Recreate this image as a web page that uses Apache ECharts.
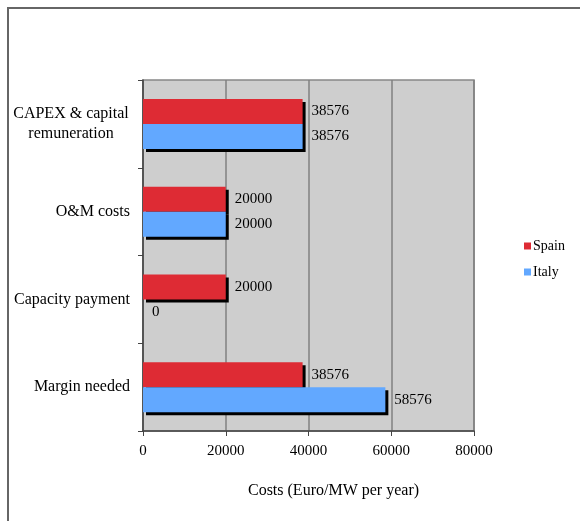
<!DOCTYPE html>
<html>
<head>
<meta charset="utf-8">
<script src="https://cdn.jsdelivr.net/npm/echarts@6/dist/echarts.min.js"></script>
<style>
  html, body { margin: 0; padding: 0; background: #fff; }
  #frame { position: absolute; left: 7px; top: 7px; width: 600px; height: 540px; border: 2px solid #666; box-sizing: border-box; }
  #main { position: absolute; left: 0; top: 0; width: 580px; height: 521px; }
</style>
</head>
<body>
<div id="frame"></div>
<div id="main"></div>
<script>
var categories = ['Margin needed', 'Capacity payment', 'O&M costs', 'CAPEX & capital remuneration'];
var spain = [38576, 20000, 20000, 38576];
var italy = [58576, 0, 20000, 38576];
var xTicks = [0, 20000, 40000, 60000, 80000];

var serif = '"Liberation Serif", "DejaVu Serif", serif';

var chart = echarts.init(document.getElementById('main'));
var barShadow = {
    shadowColor: '#000',
    shadowBlur: 0,
    shadowOffsetX: 3,
    shadowOffsetY: 3
};
var option = {
    animation: false,
    textStyle: {fontFamily: serif},
    legend: {
        orient: 'vertical',
        left: 519,
        top: 234,
        itemWidth: 7,
        itemHeight: 7,
        itemGap: 12,
        icon: 'rect',
        textStyle: {fontFamily: serif, fontSize: 14, color: '#000', padding: [0, 0, 0, -3]},
        data: ['Spain', 'Italy']
    },
    grid: {
        left: 143,
        right: 106,
        top: 80,
        bottom: 90,
        show: true,
        backgroundColor: '#cecece',
        borderColor: '#888',
        borderWidth: 1.5
    },
    xAxis: {
        type: 'value',
        min: xTicks[0],
        max: xTicks[xTicks.length - 1],
        interval: 20000,
        name: 'Costs (Euro/MW per year)',
        nameLocation: 'middle',
        nameGap: 52,
        nameTextStyle: {fontFamily: serif, fontSize: 16, color: '#000', padding: [0, 0, 0, 50]},
        axisLine: {show: true, lineStyle: {color: '#444', width: 1.5}},
        axisTick: {show: true, length: 5, lineStyle: {color: '#444'}},
        axisLabel: {
            fontFamily: serif, fontSize: 15, color: '#000', margin: 13,
            formatter: function (v) { return String(v); }
        },
        splitLine: {show: true, lineStyle: {color: '#808080', width: 1.5}}
    },
    yAxis: {
        type: 'category',
        data: categories,
        axisLine: {show: true, lineStyle: {color: '#444', width: 1.5}},
        axisTick: {show: true, length: 5, lineStyle: {color: '#444'}},
        axisLabel: {
            fontFamily: serif,
            fontSize: 16,
            color: '#000',
            margin: 13,
            formatter: function (v) {
                if (v === 'CAPEX & capital remuneration') {
                    return '{c|CAPEX & capital}\n{c|remuneration}';
                }
                return v;
            },
            rich: {
                c: {width: 118, align: 'center', fontFamily: serif, fontSize: 16, color: '#000', lineHeight: 20}
            }
        }
    },
    series: [
        {
            name: 'Spain',
            type: 'bar',
            barWidth: 25,
            barGap: '0%',
            data: spain,
            itemStyle: Object.assign({color: '#de2b34'}, barShadow),
            label: {show: true, position: 'right', distance: 9, fontFamily: serif, fontSize: 15, color: '#000'}
        },
        {
            name: 'Italy',
            type: 'bar',
            barWidth: 25,
            barGap: '0%',
            data: italy,
            itemStyle: Object.assign({color: '#62a8ff'}, barShadow),
            label: {show: true, position: 'right', distance: 9, fontFamily: serif, fontSize: 15, color: '#000'}
        }
    ]
};
chart.setOption(option);
</script>
</body>
</html>
